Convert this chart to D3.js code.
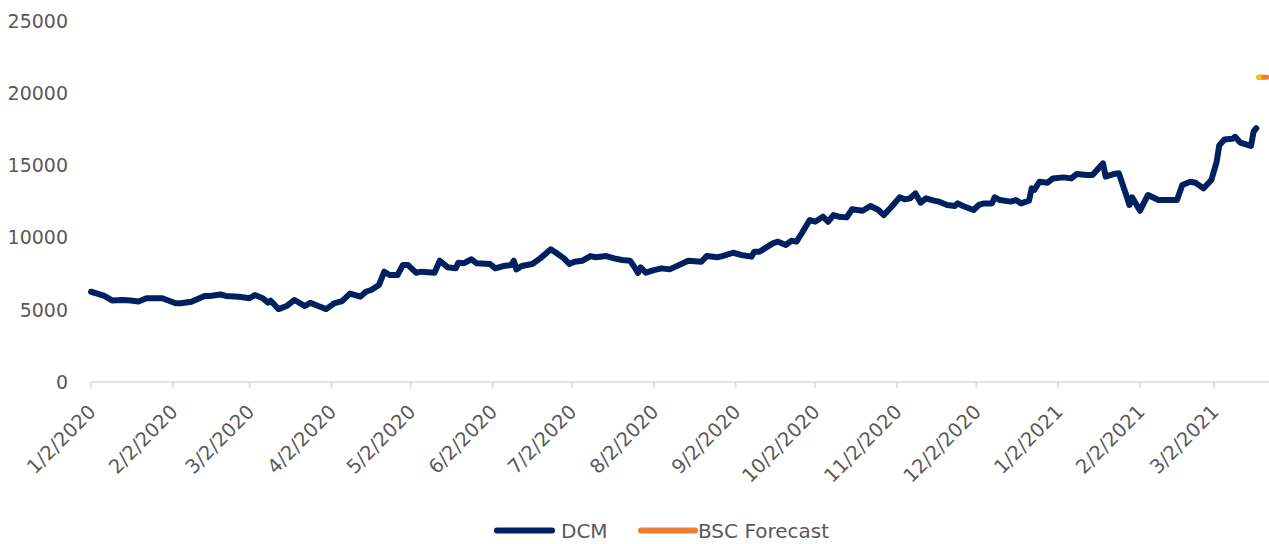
<!DOCTYPE html>
<html>
<head>
<meta charset="utf-8">
<script src="https://cdn.jsdelivr.net/npm/d3@7"></script>
<style>
  html, body { margin: 0; padding: 0; background: #ffffff; }
  svg { display: block; }
  text { font-family: "DejaVu Sans", sans-serif; fill: #595959; }
</style>
</head>
<body>
<svg id="chart" width="1269" height="544"></svg>
<script>
const dcmDates = [
"2020-01-02","2020-01-05","2020-01-07","2020-01-10","2020-01-14","2020-01-17","2020-01-20","2020-01-23","2020-01-29",
"2020-02-03","2020-02-05","2020-02-09","2020-02-14","2020-02-16","2020-02-20","2020-02-22","2020-02-27",
"2020-03-02","2020-03-04","2020-03-07","2020-03-09","2020-03-10","2020-03-13","2020-03-16","2020-03-19","2020-03-23","2020-03-25","2020-03-28","2020-03-31",
"2020-04-03","2020-04-06","2020-04-09","2020-04-13","2020-04-15","2020-04-17","2020-04-20","2020-04-22","2020-04-24","2020-04-27","2020-04-29",
"2020-05-01","2020-05-04","2020-05-06","2020-05-11","2020-05-13","2020-05-16","2020-05-19","2020-05-20","2020-05-22","2020-05-25","2020-05-27",
"2020-06-01","2020-06-03","2020-06-06","2020-06-09","2020-06-10","2020-06-11","2020-06-13","2020-06-17","2020-06-20","2020-06-24","2020-06-26","2020-06-29",
"2020-07-01","2020-07-03","2020-07-06","2020-07-09","2020-07-11","2020-07-15","2020-07-18","2020-07-21","2020-07-24","2020-07-26","2020-07-27","2020-07-28","2020-07-30",
"2020-08-02","2020-08-05","2020-08-08","2020-08-13","2020-08-15","2020-08-20","2020-08-22","2020-08-26","2020-08-28",
"2020-09-01","2020-09-04","2020-09-08","2020-09-09","2020-09-11","2020-09-16","2020-09-18","2020-09-21","2020-09-23","2020-09-25","2020-09-27","2020-09-30",
"2020-10-02","2020-10-05","2020-10-07","2020-10-09","2020-10-11","2020-10-14","2020-10-16","2020-10-20","2020-10-23","2020-10-26","2020-10-28","2020-10-31",
"2020-11-03","2020-11-05","2020-11-07","2020-11-09","2020-11-11","2020-11-13","2020-11-16","2020-11-18","2020-11-21","2020-11-24","2020-11-25","2020-11-27",
"2020-12-01","2020-12-03","2020-12-05","2020-12-08","2020-12-09","2020-12-11","2020-12-15","2020-12-17","2020-12-19","2020-12-22","2020-12-23","2020-12-24","2020-12-26","2020-12-29","2020-12-31",
"2021-01-04","2021-01-07","2021-01-09","2021-01-13","2021-01-15","2021-01-19","2021-01-20","2021-01-23","2021-01-25","2021-01-28","2021-01-29","2021-01-30",
"2021-02-02","2021-02-04","2021-02-05","2021-02-09","2021-02-16","2021-02-18","2021-02-21","2021-02-23","2021-02-26",
"2021-03-01","2021-03-03","2021-03-04","2021-03-06","2021-03-09","2021-03-10","2021-03-12","2021-03-15","2021-03-16","2021-03-17","2021-03-18"
];
const dcmValues = [
6250,6090,5960,5650,5680,5640,5580,5800,5800,
5450,5450,5560,5950,5950,6060,5960,5910,
5800,6030,5800,5490,5630,5050,5260,5680,5260,5490,5260,5050,
5450,5600,6120,5910,6250,6370,6720,7640,7410,7410,8100,
8100,7570,7640,7570,8400,7940,7870,8260,8220,8500,8220,
8170,7870,8030,8100,8400,7800,8030,8170,8560,9190,8950,8560,
8170,8330,8400,8720,8640,8720,8560,8450,8400,7870,7550,7940,7570,
7750,7870,7800,8220,8400,8330,8720,8640,8720,
8950,8800,8680,9020,9020,9600,9720,9490,9780,9720,10300,11220,
11100,11450,11100,11560,11450,11400,11960,11860,12190,11910,11560,12140,
12790,12650,12720,13060,12420,12720,12560,12490,12260,12190,12370,12190,
11910,12260,12370,12370,12790,12600,12490,12600,12370,12560,13410,13300,13870,13800,14100,
14170,14100,14400,14330,14330,15140,14220,14400,14450,12830,12260,12790,
11860,12600,12950,12600,12600,13640,13870,13800,13410,
13990,15250,16400,16800,16850,16980,16570,16410,16350,17350,17570
];
const forecastDates = ["2021-03-19","2021-03-22"];
const forecastValues = [21100, 21100];
const xTickLabels = ["1/2/2020","2/2/2020","3/2/2020","4/2/2020","5/2/2020","6/2/2020","7/2/2020","8/2/2020","9/2/2020","10/2/2020","11/2/2020","12/2/2020","1/2/2021","2/2/2021","3/2/2021"];
const yTicks = [0, 5000, 10000, 15000, 20000, 25000];
const seriesNames = ["DCM", "BSC Forecast"];

const parse = d3.timeParse("%Y-%m-%d");
const parseTick = d3.timeParse("%m/%d/%Y");
const svg = d3.select("#chart");

const x = d3.scaleTime()
  .domain([parse("2020-01-02"), parse("2021-03-02")])
  .range([91, 1214]);
const y = d3.scaleLinear().domain([0, 25000]).range([382, 21]);

// y labels
svg.append("g").selectAll("text").data(yTicks).join("text")
  .attr("x", 68).attr("y", d => y(d)).attr("dy", "0.36em")
  .attr("text-anchor", "end").style("font-size", "19px")
  .text(d => d);

// x axis line + ticks
const xAxisG = svg.append("g");
xAxisG.append("line").attr("x1", x(parse("2020-01-02"))).attr("x2", 1269)
  .attr("y1", y(0)).attr("y2", y(0)).attr("stroke", "#d9d9d9").attr("stroke-width", 1.5);
const tickDates = xTickLabels.map(s => parseTick(s));
xAxisG.selectAll("line.tick").data(tickDates).join("line").attr("class", "tick")
  .attr("x1", d => x(d)).attr("x2", d => x(d))
  .attr("y1", y(0)).attr("y2", y(0) + 6)
  .attr("stroke", "#d9d9d9").attr("stroke-width", 1.5);
xAxisG.selectAll("text").data(xTickLabels).join("text")
  .attr("transform", (d, i) => `translate(${x(tickDates[i]) + 6},${y(0) + 31}) rotate(-45)`)
  .attr("text-anchor", "end").style("font-size", "19.5px")
  .text(d => d);

// DCM line
const dcm = dcmDates.map((d, i) => ({ date: parse(d), value: dcmValues[i] }));
const line = d3.line().x(d => x(d.date)).y(d => y(d.value));
svg.append("path").datum(dcm).attr("d", line)
  .attr("fill", "none").attr("stroke", "#002060").attr("stroke-width", 6)
  .attr("stroke-linejoin", "round").attr("stroke-linecap", "round");

// Forecast
const fc = forecastDates.map((d, i) => ({ date: parse(d), value: forecastValues[i] }));
svg.append("path").datum(fc).attr("d", line)
  .attr("fill", "none").attr("stroke", "#ED7D31").attr("stroke-width", 5)
  .attr("stroke-linecap", "round");
svg.append("circle").attr("cx", x(fc[0].date)).attr("cy", y(fc[0].value)).attr("r", 2.8)
  .attr("fill", "#FFC000");

// Legend
const legend = svg.append("g");
const legendItems = [
  { name: seriesNames[0], color: "#002060", x1: 497, x2: 552, tx: 561 },
  { name: seriesNames[1], color: "#ED7D31", x1: 641, x2: 695, tx: 698 }
];
legendItems.forEach(it => {
  legend.append("line").attr("x1", it.x1).attr("x2", it.x2).attr("y1", 530.5).attr("y2", 530.5)
    .attr("stroke", it.color).attr("stroke-width", 6).attr("stroke-linecap", "round");
  legend.append("text").attr("x", it.tx).attr("y", 538).style("font-size", "20px").text(it.name);
});
</script>
</body>
</html>
